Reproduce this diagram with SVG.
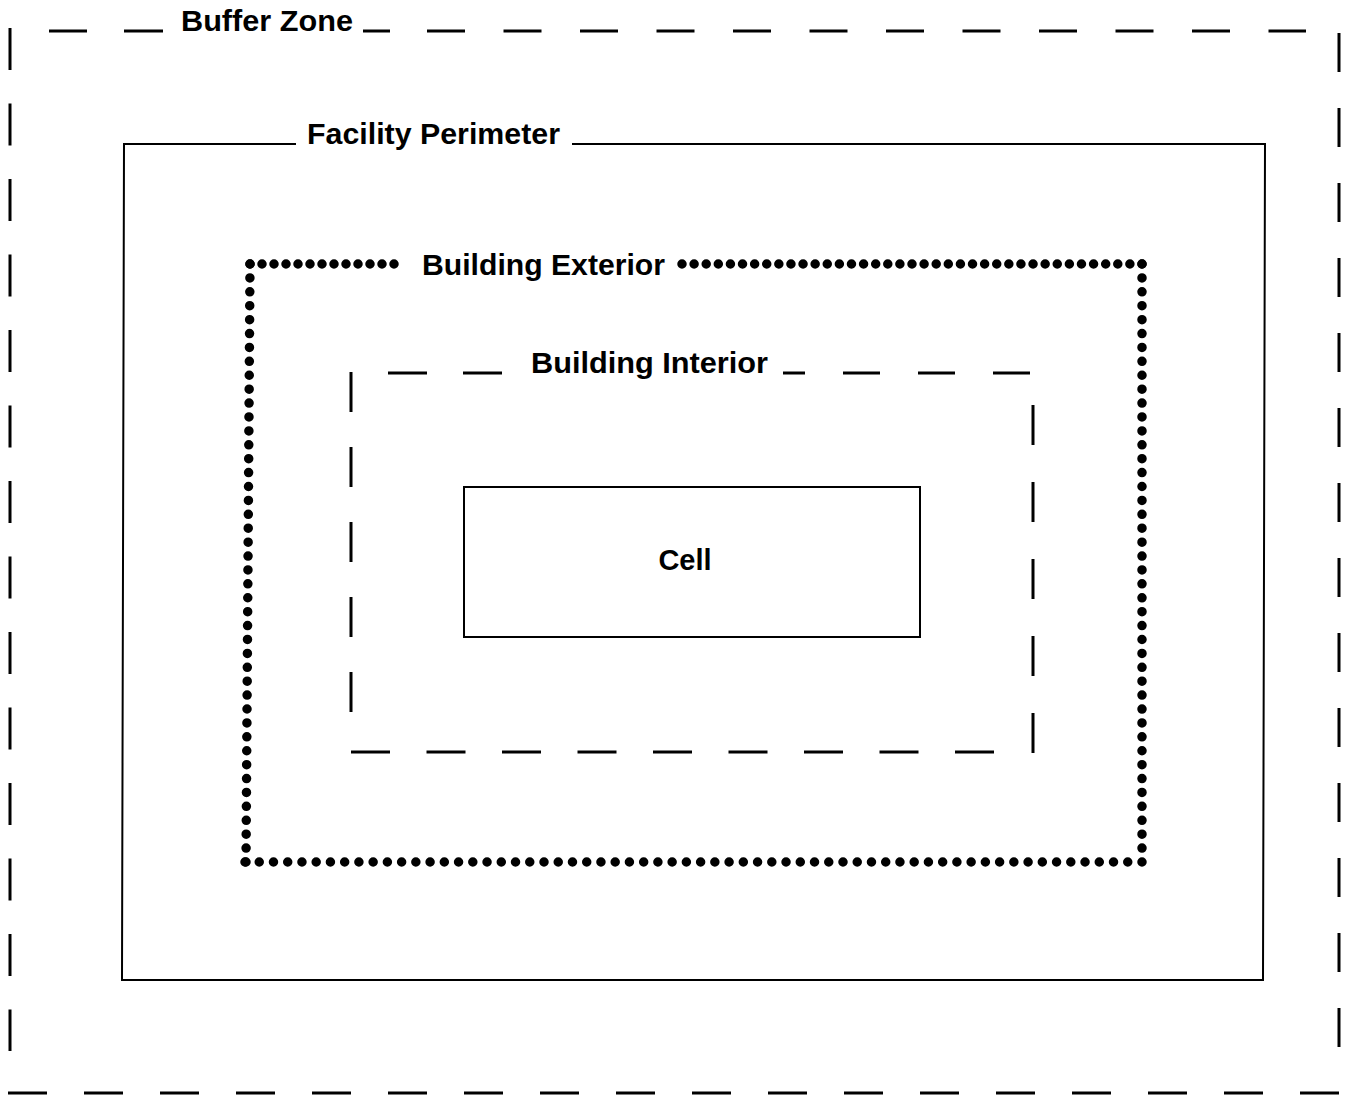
<svg xmlns="http://www.w3.org/2000/svg" width="1351" height="1097" viewBox="0 0 1351 1097">
<style>
  .lbl { font-family: "Liberation Sans", Arial, sans-serif; font-weight: bold; font-size: 29px; fill: #000; }
  .dash { stroke: #000; stroke-width: 3; fill: none; }
  .solid { stroke: #000; stroke-width: 2; fill: none; }
  .dots { stroke: #000; stroke-width: 9.5; stroke-linecap: round; fill: none; }
</style>
<rect width="1351" height="1097" fill="#fff"/>

<g id="buffer-zone">
  <line class="dash" x1="49" y1="31" x2="87" y2="31"/>
  <line class="dash" x1="124" y1="31" x2="163" y2="31"/>
  <line class="dash" x1="363" y1="31" x2="390" y2="31"/>
  <line class="dash" x1="427" y1="31" x2="1306" y2="31" stroke-dasharray="38 38.5"/>
  <line class="dash" x1="10" y1="28" x2="10" y2="1051" stroke-dasharray="42 33.5"/>
  <line class="dash" x1="1339" y1="33" x2="1339" y2="1047" stroke-dasharray="39 36"/>
  <line class="dash" x1="8" y1="1093" x2="1339" y2="1093" stroke-dasharray="39 37"/>
  <text class="lbl" x="181" y="31" textLength="172" lengthAdjust="spacingAndGlyphs">Buffer Zone</text>
</g>

<g id="facility-perimeter">
  <polyline class="solid" points="296,144 124,144 122,980 1263,980 1265,144 572,144"/>
  <text class="lbl" x="307" y="144" textLength="253" lengthAdjust="spacingAndGlyphs">Facility Perimeter</text>
</g>

<g id="building-exterior">
  <line class="dots" x1="250" y1="264" x2="406" y2="264" stroke-dasharray="0 12"/>
  <line class="dots" x1="682" y1="264" x2="1142" y2="264" stroke-dasharray="0 12.105"/>
  <line class="dots" x1="1142" y1="264" x2="1142" y2="862" stroke-dasharray="0 13.907"/>
  <line class="dots" x1="245" y1="862" x2="1142" y2="862" stroke-dasharray="0 14.238"/>
  <line class="dots" x1="250" y1="264" x2="246" y2="862" stroke-dasharray="0 13.907"/>
  <text class="lbl" x="422" y="275" textLength="243" lengthAdjust="spacingAndGlyphs">Building Exterior</text>
</g>

<g id="building-interior">
  <line class="dash" x1="388" y1="373" x2="427" y2="373"/>
  <line class="dash" x1="463" y1="373" x2="502" y2="373"/>
  <line class="dash" x1="783" y1="373" x2="805" y2="373"/>
  <line class="dash" x1="843" y1="373" x2="1035" y2="373" stroke-dasharray="37 38"/>
  <line class="dash" x1="351" y1="372" x2="351" y2="715" stroke-dasharray="40 35"/>
  <line class="dash" x1="1033" y1="405" x2="1033" y2="753" stroke-dasharray="40 37"/>
  <line class="dash" x1="351" y1="752" x2="997" y2="752" stroke-dasharray="39 36.5"/>
  <text class="lbl" x="531" y="373" textLength="237" lengthAdjust="spacingAndGlyphs">Building Interior</text>
</g>

<g id="cell">
  <rect class="solid" x="464" y="487" width="456" height="150"/>
  <text class="lbl" x="685" y="570" text-anchor="middle">Cell</text>
</g>

<g id="connectors"></g>
</svg>
